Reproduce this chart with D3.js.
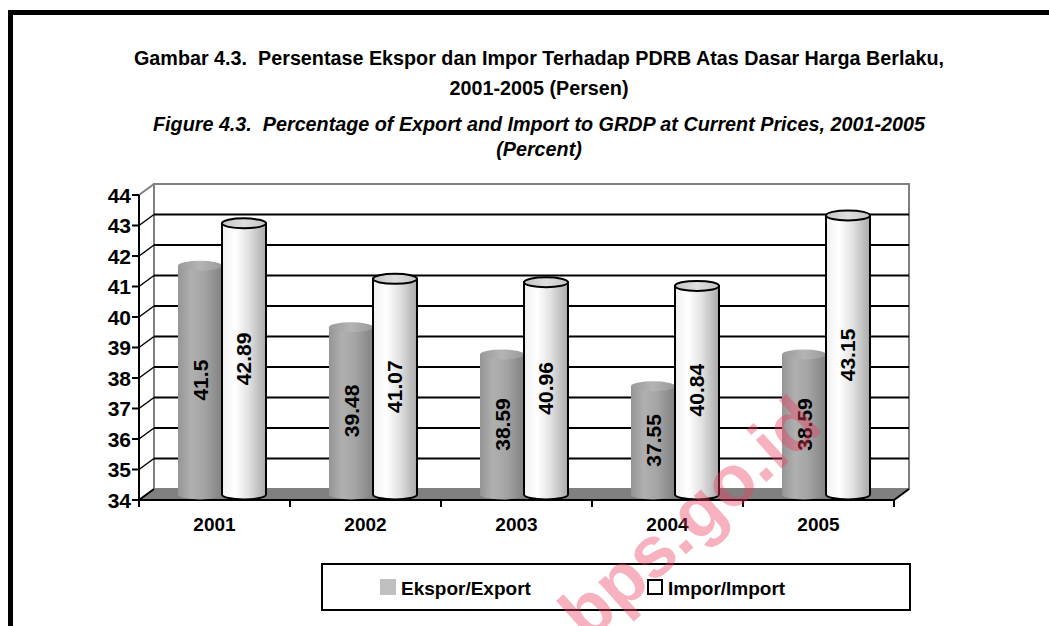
<!DOCTYPE html>
<html>
<head>
<meta charset="utf-8">
<script src="https://cdn.jsdelivr.net/npm/d3@7"></script>
<style>
  body { margin: 0; background: #fff; }
  svg { display: block; }
  text { font-family: "Liberation Sans", Arial, sans-serif; font-weight: bold; fill: #000; }
  .title { white-space: pre; }
</style>
</head>
<body>
<svg id="chart" width="1049" height="626"></svg>
<script>
"use strict";

// data
const years = ["2001", "2002", "2003", "2004", "2005"];
const seriesNames = ["Ekspor/Export", "Impor/Import"];
const ekspor = [41.5, 39.48, 38.59, 37.55, 38.59];
const impor = [42.89, 41.07, 40.96, 40.84, 43.15];
const yTicks = [34, 35, 36, 37, 38, 39, 40, 41, 42, 43, 44];
const titleLines = [
  "Gambar 4.3.  Persentase Ekspor dan Impor Terhadap PDRB Atas Dasar Harga Berlaku,",
  "2001-2005 (Persen)",
  "Figure 4.3.  Percentage of Export and Import to GRDP at Current Prices, 2001-2005",
  "(Percent)"
];
const watermark = "www.bps.go.id";

const svg = d3.select("#chart");

// outer frame (runs off the right and bottom edge)
svg.append("rect")
  .attr("x", 10.5).attr("y", 12.5)
  .attr("width", 1100).attr("height", 700)
  .attr("fill", "none").attr("stroke", "#000").attr("stroke-width", 5);

// titles, condensed like the narrow face of the original
const titleY = [58, 88, 124, 149];
const titles = svg.selectAll("text.title")
  .data(titleLines)
  .enter()
  .append("text")
  .attr("class", "title")
  .attr("x", 539)
  .attr("y", (d, i) => titleY[i])
  .attr("text-anchor", "middle")
  .attr("dominant-baseline", "central")
  .attr("font-size", 20)
  .attr("font-style", (d, i) => (i >= 2 ? "italic" : "normal"))
  .text((d) => d);
const squeeze = 810 / titles.node().getComputedTextLength();
titles.each(function () {
  const w = this.getComputedTextLength();
  d3.select(this).attr("textLength", w * squeeze).attr("lengthAdjust", "spacingAndGlyphs");
});

// plot geometry
const pLeft = 139, pRight = 894, pBottom = 500, pTop = 195;
const depthX = 15, depthY = -11;

const x = d3.scaleBand().domain(years).range([pLeft, pRight]);
const x1 = d3.scaleBand().domain(seriesNames).range([0, x.bandwidth()]).paddingOuter(0.716);
const y = d3.scaleLinear().domain([34, 44]).range([pBottom, pTop]);

const plot = svg.append("g");

// side wall and back wall
plot.append("polygon")
  .attr("points", [[pLeft, y(44)], [pLeft + depthX, y(44) + depthY], [pLeft + depthX, y(34) + depthY], [pLeft, y(34)]].join(" "))
  .attr("fill", "#fff");
plot.append("rect")
  .attr("x", pLeft + depthX).attr("y", y(44) + depthY)
  .attr("width", pRight - pLeft).attr("height", y(34) - y(44))
  .attr("fill", "#fff").attr("stroke", "#808080").attr("stroke-width", 2);
plot.append("line")
  .attr("x1", pLeft).attr("y1", y(44))
  .attr("x2", pLeft + depthX).attr("y2", y(44) + depthY)
  .attr("stroke", "#808080").attr("stroke-width", 2);

// gridlines on the back wall and the side wall
const inner = yTicks.filter((t) => t > 34 && t < 44);
plot.selectAll("line.grid")
  .data(inner)
  .enter()
  .append("line")
  .attr("class", "grid")
  .attr("x1", pLeft + depthX).attr("x2", pRight + depthX)
  .attr("y1", (d) => y(d) + depthY).attr("y2", (d) => y(d) + depthY)
  .attr("stroke", "#000").attr("stroke-width", 2);
plot.selectAll("line.side")
  .data(inner)
  .enter()
  .append("line")
  .attr("class", "side")
  .attr("x1", pLeft).attr("y1", (d) => y(d))
  .attr("x2", pLeft + depthX).attr("y2", (d) => y(d) + depthY)
  .attr("stroke", "#000").attr("stroke-width", 1.5);

// floor
plot.append("polygon")
  .attr("points", [[pLeft, pBottom], [pRight, pBottom], [pRight + depthX, pBottom + depthY], [pLeft + depthX, pBottom + depthY]].join(" "))
  .attr("fill", "#808080");
plot.append("polyline")
  .attr("points", [[pLeft + depthX, pBottom + depthY], [pLeft, pBottom], [pRight, pBottom], [pRight + depthX, pBottom + depthY]].join(" "))
  .attr("fill", "none").attr("stroke", "#000").attr("stroke-width", 2);

// gradients for cylinders
const defs = svg.append("defs");
function gradient(id, stops) {
  const g = defs.append("linearGradient").attr("id", id)
    .attr("x1", 0).attr("x2", 1).attr("y1", 0).attr("y2", 0);
  stops.forEach((s) => g.append("stop").attr("offset", s[0]).attr("stop-color", s[1]));
}
gradient("bodyExp", [[0, "#959595"], [0.3, "#b0b0b0"], [0.6, "#a4a4a4"], [1, "#828282"]]);
gradient("topExp", [[0, "#9a9a9a"], [0.5, "#b4b4b4"], [1, "#9a9a9a"]]);
gradient("bodyImp", [[0, "#f0f0f0"], [0.3, "#ffffff"], [0.6, "#e2e2e2"], [1, "#aaaaaa"]]);
gradient("topImp", [[0, "#c4c4c4"], [0.5, "#dedede"], [1, "#c4c4c4"]]);

const rows = [];
years.forEach((yr, i) => {
  rows.push({ year: yr, series: seriesNames[0], value: ekspor[i], body: "bodyExp", cap: "topExp", stroke: "none" });
  rows.push({ year: yr, series: seriesNames[1], value: impor[i], body: "bodyImp", cap: "topImp", stroke: "#000" });
});

const rx = x1.bandwidth() / 2;
const ry = 5;
const cyl = plot.selectAll("g.cyl")
  .data(rows)
  .enter()
  .append("g")
  .attr("class", "cyl")
  .each(function (d) {
    d.cx = x(d.year) + x1(d.series) + rx + depthX / 2;
    d.yb = y(34) + depthY / 2;
    d.yt = y(d.value) + depthY / 2;
  });

cyl.append("path")
  .attr("d", (d) => `M${d.cx - rx},${d.yt} L${d.cx - rx},${d.yb} A${rx},${ry} 0 0 0 ${d.cx + rx},${d.yb} L${d.cx + rx},${d.yt} Z`)
  .attr("fill", (d) => `url(#${d.body})`)
  .attr("stroke", (d) => d.stroke).attr("stroke-width", 2);
cyl.append("ellipse")
  .attr("cx", (d) => d.cx).attr("cy", (d) => d.yt)
  .attr("rx", rx).attr("ry", ry)
  .attr("fill", (d) => `url(#${d.cap})`)
  .attr("stroke", (d) => d.stroke).attr("stroke-width", 2);
cyl.append("text")
  .attr("transform", (d) => `translate(${d.cx},${(d.yt + d.yb) / 2}) rotate(-90)`)
  .attr("text-anchor", "middle")
  .attr("dominant-baseline", "central")
  .attr("font-size", 21)
  .text((d) => d.value);

// y axis
const yAxis = plot.append("g");
yAxis.append("line")
  .attr("x1", pLeft).attr("x2", pLeft).attr("y1", pTop).attr("y2", pBottom)
  .attr("stroke", "#000").attr("stroke-width", 2);
yAxis.selectAll("line.tick")
  .data(yTicks)
  .enter()
  .append("line")
  .attr("x1", pLeft - 7).attr("x2", pLeft)
  .attr("y1", (d) => y(d)).attr("y2", (d) => y(d))
  .attr("stroke", "#000").attr("stroke-width", 2);
yAxis.selectAll("text")
  .data(yTicks)
  .enter()
  .append("text")
  .attr("x", pLeft - 8)
  .attr("y", (d) => y(d))
  .attr("text-anchor", "end")
  .attr("dominant-baseline", "central")
  .attr("font-size", 21)
  .text((d) => d);

// x axis
const xAxis = plot.append("g");
xAxis.selectAll("line")
  .data(years.map((d) => x(d)).concat([pRight]))
  .enter()
  .append("line")
  .attr("x1", (d) => d).attr("x2", (d) => d)
  .attr("y1", pBottom).attr("y2", pBottom + 7)
  .attr("stroke", "#000").attr("stroke-width", 2);
xAxis.selectAll("text")
  .data(years)
  .enter()
  .append("text")
  .attr("x", (d) => x(d) + x.bandwidth() / 2)
  .attr("y", 524)
  .attr("text-anchor", "middle")
  .attr("dominant-baseline", "central")
  .attr("font-size", 19)
  .text((d) => d);

// legend
const legend = svg.append("g");
legend.append("rect")
  .attr("x", 322).attr("y", 564).attr("width", 588).attr("height", 46)
  .attr("fill", "#fff").attr("stroke", "#000").attr("stroke-width", 2);
const lx = d3.scaleBand().domain(seriesNames).range([380, 914]);
const item = legend.selectAll("g.item")
  .data(seriesNames)
  .enter()
  .append("g")
  .attr("transform", (d) => `translate(${lx(d)},587)`);
item.append("rect")
  .attr("x", (d, i) => (i ? 1 : 0)).attr("y", (d, i) => (i ? -7 : -8))
  .attr("width", (d, i) => (i ? 14 : 16)).attr("height", (d, i) => (i ? 14 : 16))
  .attr("fill", (d, i) => (i ? "#fff" : "#c0c0c0"))
  .attr("stroke", (d, i) => (i ? "#000" : "none"))
  .attr("stroke-width", 2);
item.append("text")
  .attr("x", 21)
  .attr("y", 1)
  .attr("dominant-baseline", "central")
  .attr("font-size", 19)
  .text((d) => d);

// watermark
svg.append("text")
  .attr("transform", "translate(825,429) rotate(-42)")
  .attr("text-anchor", "end")
  .attr("font-size", 72)
  .attr("fill-opacity", 0.4)
  .style("fill", "#ec3c5e")
  .text(watermark);
</script>
</body>
</html>
